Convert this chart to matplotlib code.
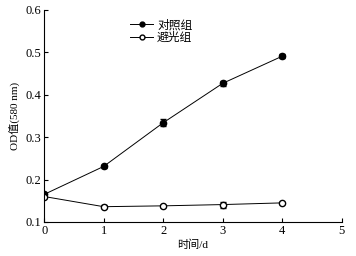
import matplotlib.pyplot as plt
from matplotlib.lines import Line2D

plt.rcParams['font.family'] = ['Liberation Serif', 'Noto Sans CJK SC']
plt.rcParams['font.size'] = 8

# Data
days = [0, 1, 2, 3, 4]
control = [0.165, 0.231, 0.334, 0.427, 0.491]
control_err = [0.004, 0.003, 0.008, 0.006, 0.004]
dark = [0.160, 0.136, 0.138, 0.141, 0.145]
dark_err = [0.003, 0.004, 0.003, 0.007, 0.002]

fig = plt.figure(figsize=(3.56, 2.56), dpi=100)
ax = fig.add_axes([0.124, 0.133, 0.836, 0.828])

ax.errorbar(days, control, yerr=control_err, color='black', marker='o', markersize=4.5,
            linewidth=0.7, capsize=2, elinewidth=0.7)
ax.errorbar(days, dark, yerr=dark_err, color='black', marker='o', markersize=4.5,
            markerfacecolor='white', linewidth=0.7, capsize=2, elinewidth=0.7)

ax.set_xlim(0, 5)
ax.set_ylim(0.1, 0.6)
ax.set_xticks([0, 1, 2, 3, 4, 5])
ax.set_yticks([0.1, 0.2, 0.3, 0.4, 0.5, 0.6])
ax.spines['top'].set_visible(False)
ax.spines['right'].set_visible(False)
ax.tick_params(direction='in', length=3, width=0.8, labelsize=9, pad=2)
ax.set_xlabel('时间/d', fontsize=8, labelpad=2)
ax.set_ylabel('OD值(580 nm)', fontsize=8, labelpad=4)

handles = [
    Line2D([], [], color='black', marker='o', markersize=3.5, linewidth=0.7),
    Line2D([], [], color='black', marker='o', markersize=3.5, markerfacecolor='white', linewidth=0.7),
]
ax.legend(handles, ['对照组', '避光组'], loc='upper left', bbox_to_anchor=(0.26, 0.995),
          frameon=False, fontsize=8.5, handlelength=2.0, handletextpad=0.3,
          labelspacing=0.05, borderpad=0.2)

plt.savefig('out.png', dpi=100)
